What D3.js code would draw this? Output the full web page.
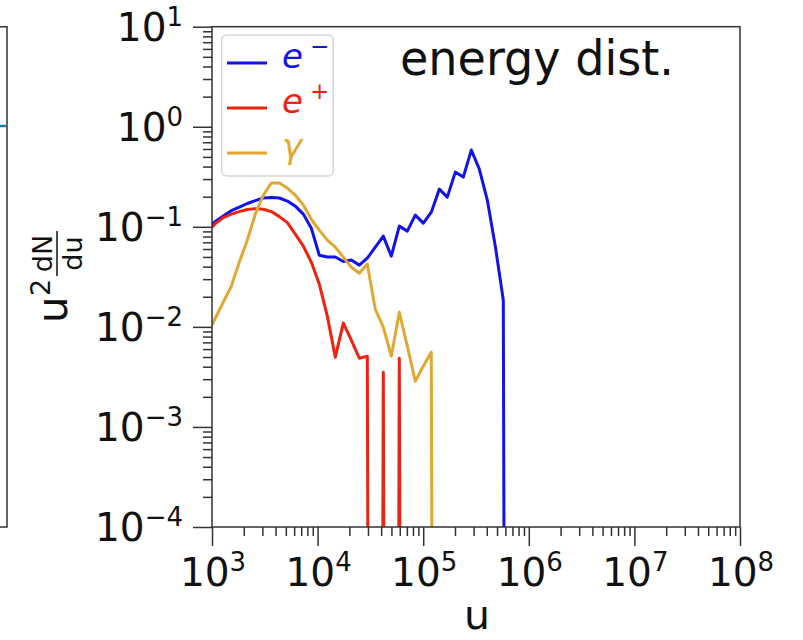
<!DOCTYPE html>
<html><head><meta charset="utf-8">
<script src="https://cdn.jsdelivr.net/npm/d3@7"></script>
<style>body{margin:0;background:#fff}svg{display:block}</style>
</head><body>
<svg id="chart" width="803" height="640"></svg>
<script>
// ---- data ----
const energies = [902, 1075, 1279, 1523, 1814, 2160, 2570, 3061, 3644, 4338, 5166, 6150, 7321, 8716,
  10378, 12356, 14710, 17514, 20852, 24826, 29555, 35188, 41894, 49876, 59383, 70700, 84172,
  100210, 119310, 142050, 169120, 201360, 239720, 285420, 339820, 404580, 481680, 573480, 682780];
const electrons = [0.097, 0.113, 0.128, 0.145, 0.157, 0.171, 0.183, 0.194, 0.196, 0.194, 0.181, 0.161,
  0.134, 0.097, 0.052, 0.050, 0.050, 0.045, 0.0465, 0.0414, 0.0486, 0.0627, 0.0807, 0.0509, 0.1016,
  0.0906, 0.131, 0.109, 0.140, 0.238, 0.198, 0.352, 0.314, 0.585, 0.378, 0.185, 0.0641, 0.0185, 0];
const positrons = [0.0885, 0.1076, 0.1236, 0.134, 0.142, 0.149, 0.152, 0.150, 0.142, 0.1265, 0.110,
  0.0845, 0.0641, 0.0444, 0.0267, 0.0128, 0.00498, 0.0109, 0.00736, 0.00486, 0.00509, 0, 0.00352, 0,
  0.00486, 0, 0, 0, 0, 0, 0, 0, 0, 0, 0, 0, 0, 0, 0];
const photons = [0.00845, 0.0122, 0.0177, 0.0255, 0.0444, 0.0736, 0.134, 0.207, 0.274, 0.274, 0.244,
  0.207, 0.165, 0.119, 0.0927, 0.0736, 0.0627, 0.0498, 0.0395, 0.0344, 0.0424, 0.0150, 0.00993,
  0.00509, 0.0140, 0.00641, 0.00286, 0.00405, 0.00558, 0, 0, 0, 0, 0, 0, 0, 0, 0, 0];
const seriesLabels = [["e", "\u2212"], ["e", "+"], ["\u03b3", ""]];
const seriesColors = ["#1212ea", "#f0220f", "#e0a832"];
const xExponents = [3, 4, 5, 6, 7, 8];
const yExponents = [-4, -3, -2, -1, 0, 1];
const titleText = "energy dist.";
const xLabel = "u";

// ---- layout ----
const svg = d3.select("#chart");
const L = 212, R = 740, T = 26.7, B = 527;
const font = "DejaVu Sans, sans-serif";
const x = d3.scaleLog().domain([1e3, 1e8]).range([L, R]);
const y = d3.scaleLog().domain([1e-4, 1e1]).range([B, T]);
const floorVal = 1e-30;

// left neighbouring panel fragment
const lp = svg.append("g");
lp.append("path").attr("d", `M0,${T}H7V${B}H0`).attr("fill", "none").attr("stroke", "#333").attr("stroke-width", 1.5);
lp.append("line").attr("x1", 0).attr("x2", 6.3).attr("y1", 126).attr("y2", 126).attr("stroke", "#1f77b4").attr("stroke-width", 2.5);

// clip
svg.append("defs").append("clipPath").attr("id", "clip")
  .append("rect").attr("x", L).attr("y", T).attr("width", R - L).attr("height", B - T);

// lines
const series = [electrons, positrons, photons];
const line = d3.line()
  .x(d => x(d[0]))
  .y(d => y(d[1] > 0 ? d[1] : floorVal));
const lines = svg.append("g").attr("clip-path", "url(#clip)");
series.forEach((vals, i) => {
  lines.append("path")
    .datum(energies.map((u, j) => [u, vals[j]]))
    .attr("d", line)
    .attr("fill", "none")
    .attr("stroke", seriesColors[i])
    .attr("stroke-width", 3)
    .attr("stroke-linejoin", "round");
});

// axes
const majorX = xExponents.map(e => Math.pow(10, e));
const majorY = yExponents.map(e => Math.pow(10, e));
const isMajor = v => Math.abs(Math.log10(v) - Math.round(Math.log10(v))) < 1e-9;
const minorX = x.ticks().filter(v => !isMajor(v));
const minorY = y.ticks().filter(v => !isMajor(v));

function styleAxis(g) {
  g.select(".domain").remove();
  g.selectAll(".tick line").attr("stroke", "#333").attr("stroke-width", 1.5);
  g.selectAll(".tick text").remove();
}
svg.append("g").attr("transform", `translate(0,${B})`)
  .call(d3.axisBottom(x).tickValues(majorX).tickSize(19).tickFormat("")).call(styleAxis);
svg.append("g").attr("transform", `translate(0,${B})`)
  .call(d3.axisBottom(x).tickValues(minorX).tickSize(9).tickFormat("")).call(styleAxis);
svg.append("g").attr("transform", `translate(${L},0)`)
  .call(d3.axisLeft(y).tickValues(majorY).tickSize(19).tickFormat("")).call(styleAxis);
svg.append("g").attr("transform", `translate(${L},0)`)
  .call(d3.axisLeft(y).tickValues(minorY).tickSize(9).tickFormat("")).call(styleAxis);

// frame
svg.append("rect").attr("x", L).attr("y", T).attr("width", R - L).attr("height", B - T)
  .attr("fill", "none").attr("stroke", "#333").attr("stroke-width", 1.5);

// tick labels
const fmtExp = e => (e < 0 ? "\u2212" + (-e) : String(e));
xExponents.forEach(e => {
  const t = svg.append("text").attr("x", x(Math.pow(10, e)) + 1).attr("y", 586)
    .attr("text-anchor", "middle").attr("font-family", font).attr("font-size", 39).attr("fill", "#111");
  t.append("tspan").text("10");
  t.append("tspan").attr("dy", -15).attr("font-size", 26).text(fmtExp(e));
});
yExponents.forEach(e => {
  const t = svg.append("text").attr("x", 183).attr("y", y(Math.pow(10, e)) + 14)
    .attr("text-anchor", "end").attr("font-family", font).attr("font-size", 39).attr("fill", "#111");
  t.append("tspan").text("10");
  t.append("tspan").attr("dy", -15).attr("font-size", 26).text(fmtExp(e));
});

// axis labels
svg.append("text").attr("x", 477).attr("y", 629).attr("text-anchor", "middle")
  .attr("font-family", font).attr("font-size", 41).attr("fill", "#111").text(xLabel);
const yl = svg.append("g").attr("transform", "translate(67,323) rotate(-90)")
  .attr("font-family", font).attr("fill", "#111");
yl.append("text").attr("x", 0).attr("y", 0).attr("font-size", 42).text("u");
yl.append("text").attr("x", 27).attr("y", -17).attr("font-size", 27).text("2");
yl.append("line").attr("x1", 47).attr("x2", 92).attr("y1", -10).attr("y2", -10).attr("stroke", "#111").attr("stroke-width", 1.5);
yl.append("text").attr("x", 69.5).attr("y", -15).attr("text-anchor", "middle").attr("font-size", 27).text("dN");
yl.append("text").attr("x", 69.5).attr("y", 15).attr("text-anchor", "middle").attr("font-size", 27).text("du");

// title annotation
svg.append("text").attr("x", 400).attr("y", 75).attr("font-family", font).attr("font-size", 48)
  .attr("fill", "#111").attr("textLength", 274).attr("lengthAdjust", "spacingAndGlyphs").text(titleText);

// legend
const lg = svg.append("g");
lg.append("rect").attr("x", 221.7).attr("y", 35).attr("width", 111.6).attr("height", 141).attr("rx", 5)
  .attr("fill", "#fff").attr("fill-opacity", 0.85).attr("stroke", "#d6d6d6").attr("stroke-width", 1.5);
seriesLabels.forEach((lab, i) => {
  const cy = 63 + i * 45;
  lg.append("line").attr("x1", 227).attr("x2", 267).attr("y1", cy).attr("y2", cy)
    .attr("stroke", seriesColors[i]).attr("stroke-width", 3);
  const t = lg.append("text").attr("x", 282).attr("y", cy + 5)
    .attr("font-family", font).attr("font-size", 34).attr("font-style", "italic").attr("fill", seriesColors[i]);
  t.append("tspan").text(lab[0]);
  if (lab[1]) t.append("tspan").attr("dx", 7).attr("dy", -14).attr("font-size", 23).attr("font-style", "normal").text(lab[1]);
});
</script>
</body></html>
